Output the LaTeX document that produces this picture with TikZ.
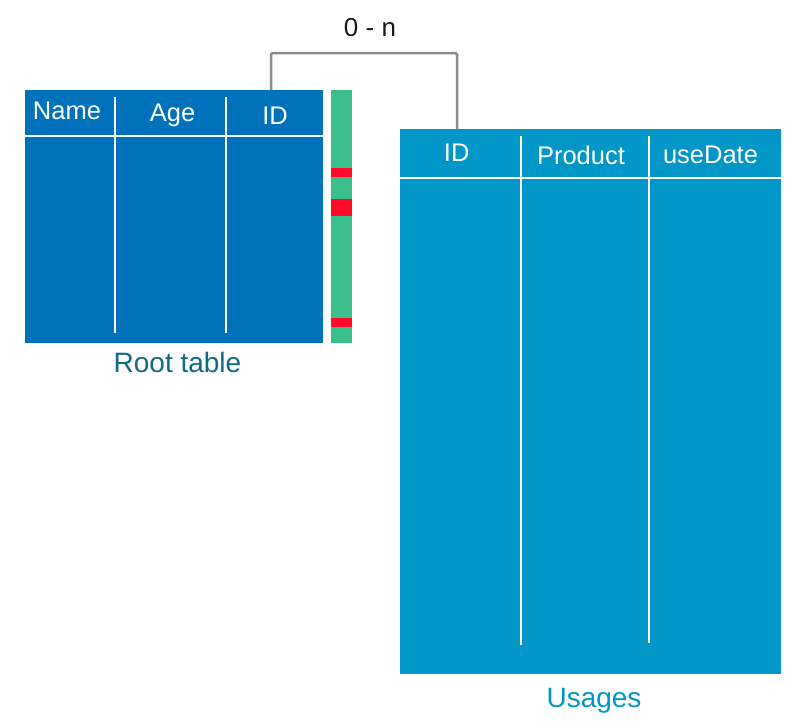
\documentclass[tikz,border=0pt]{standalone}
\usepackage{fontspec}
\setmainfont{Liberation Sans}
\definecolor{rootblue}{RGB}{0,114,188}
\definecolor{useblue}{RGB}{0,150,199}
\definecolor{bargreen}{RGB}{58,190,140}
\definecolor{barred}{RGB}{255,10,40}
\definecolor{linkgray}{RGB}{140,140,140}
\definecolor{rootlabel}{RGB}{14,106,133}
\begin{document}
\begin{tikzpicture}[x=1pt,y=-1pt,
  tbl/.style={rectangle, draw=none, inner sep=0pt, anchor=north west},
  sep/.style={draw=white, line width=2.3pt},
  hdr/.style={text=white, anchor=base, inner sep=0pt, font=\fontsize{25.5}{30}\selectfont},
  lbl/.style={anchor=base, inner sep=0pt, font=\fontsize{28}{32}\selectfont},
  link/.style={draw=linkgray, line width=2.5pt, rounded corners=1.5pt}
]
\useasboundingbox (0,0) rectangle (810,726);
% Root table
\node[tbl, fill=rootblue, minimum width=298pt, minimum height=253pt] (root) at (25,90) {};
\draw[sep] (25,136) -- (323,136);
\draw[sep] (115,97) -- (115,333);
\draw[sep] (226,97) -- (226,333);
\node[hdr] (rname) at (67,119) {Name};
\node[hdr] (rage) at (172.5,121) {Age};
\node[hdr] (rid) at (275,124) {ID};
\node[lbl, text=rootlabel] (rootlbl) at (177.5,372.5) {Root table};
% status bar
\node[tbl, fill=bargreen, minimum width=21pt, minimum height=253pt] (bar) at (331,90) {};
\fill[barred] (331,168) rectangle (352,177);
\fill[barred] (331,199) rectangle (352,216);
\fill[barred] (331,318) rectangle (352,327);
% Usages table
\node[tbl, fill=useblue, minimum width=381pt, minimum height=545pt] (use) at (400,129) {};
\draw[sep] (400,178) -- (781,178);
\draw[sep] (521,136) -- (521,645);
\draw[sep] (649,136) -- (649,643);
\node[hdr] (uid) at (456.7,161) {ID};
\node[hdr] (uprod) at (581,164) {Product};
\node[hdr] (udate) at (710.5,163) {useDate};
\node[lbl, text=useblue] (uselbl) at (594,707) {Usages};
% connector
\coordinate (c1) at (271,90);
\coordinate (c2) at (457,129);
\coordinate (top) at (364,53);
\draw[link] (c1) |- (top) -| (c2);
\node[anchor=base, inner sep=0pt, text=black!90, font=\fontsize{26}{30}\selectfont] (card) at (370,36.5) {0 - n};
\end{tikzpicture}
\end{document}
